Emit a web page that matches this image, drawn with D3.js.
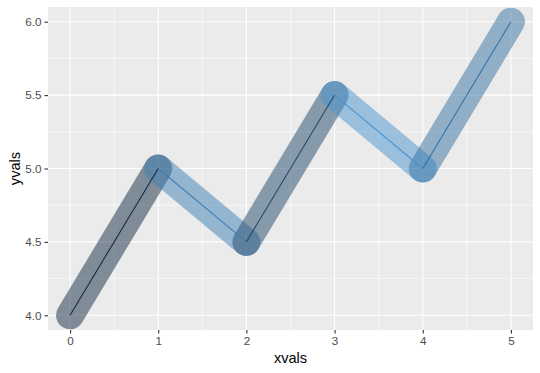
<!DOCTYPE html>
<html>
<head>
<meta charset="utf-8">
<script src="https://cdn.jsdelivr.net/npm/d3@7"></script>
<style>
  body { margin: 0; background: #fff; }
  text { font-family: "Liberation Sans", Arial, sans-serif; }
</style>
</head>
<body>
<div id="chart"></div>
<script>
// data
var xvals = [0, 1, 2, 3, 4, 5];
var yvals = [4, 5, 4.5, 5.5, 5, 6];
var colourvals = [0, 0.65, 0.25, 0.8, 0.55, 1];   // colour of each segment (taken from its start point)
var xTicks = [0, 1, 2, 3, 4, 5];
var yTicks = [4.0, 4.5, 5.0, 5.5, 6.0];

var svgWidth = 540;
var svgHeight = 373;

var margin = { top: 7, right: 7, bottom: 43, left: 48 };
var width = svgWidth - margin.left - margin.right;
var height = svgHeight - margin.top - margin.bottom;

var svg = d3.select("#chart")
  .append("svg")
  .attr("width", svgWidth)
  .attr("height", svgHeight);

var chartGroup = svg.append("g")
  .attr("transform", `translate(${margin.left}, ${margin.top})`);

// ggplot-like 5% expansion
var xLinearScale = d3.scaleLinear().domain([-0.25, 5.25]).range([0, width]);
var yLinearScale = d3.scaleLinear().domain([3.9, 6.1]).range([height, 0]);

var colourScale = d3.scaleLinear()
  .domain([d3.min(colourvals), d3.max(colourvals)])
  .range(["#132B43", "#56B1F7"])
  .interpolate(d3.interpolateLab);

// panel
chartGroup.append("rect")
  .attr("width", width)
  .attr("height", height)
  .attr("fill", "#EBEBEB");

// minor grid
var xMinor = [0.5, 1.5, 2.5, 3.5, 4.5];
var yMinor = [4.25, 4.75, 5.25, 5.75];
chartGroup.selectAll(".xminor").data(xMinor).enter().append("line")
  .attr("x1", d => xLinearScale(d)).attr("x2", d => xLinearScale(d))
  .attr("y1", 0).attr("y2", height)
  .attr("stroke", "#fff").attr("stroke-width", 0.55);
chartGroup.selectAll(".yminor").data(yMinor).enter().append("line")
  .attr("y1", d => yLinearScale(d)).attr("y2", d => yLinearScale(d))
  .attr("x1", 0).attr("x2", width)
  .attr("stroke", "#fff").attr("stroke-width", 0.55);

// major grid
chartGroup.selectAll(".xmajor").data(xTicks).enter().append("line")
  .attr("x1", d => xLinearScale(d)).attr("x2", d => xLinearScale(d))
  .attr("y1", 0).attr("y2", height)
  .attr("stroke", "#fff").attr("stroke-width", 1.1);
chartGroup.selectAll(".ymajor").data(yTicks).enter().append("line")
  .attr("y1", d => yLinearScale(d)).attr("y2", d => yLinearScale(d))
  .attr("x1", 0).attr("x2", width)
  .attr("stroke", "#fff").attr("stroke-width", 1.1);

// segments
var segments = d3.range(xvals.length - 1).map(function(i) {
  return { x1: xvals[i], y1: yvals[i], x2: xvals[i + 1], y2: yvals[i + 1], c: colourvals[i] };
});

chartGroup.selectAll(".thick").data(segments).enter().append("line")
  .attr("x1", d => xLinearScale(d.x1)).attr("y1", d => yLinearScale(d.y1))
  .attr("x2", d => xLinearScale(d.x2)).attr("y2", d => yLinearScale(d.y2))
  .attr("stroke", d => colourScale(d.c))
  .attr("stroke-opacity", 0.5)
  .attr("stroke-width", 28)
  .attr("stroke-linecap", "round");

chartGroup.selectAll(".thin").data(segments).enter().append("line")
  .attr("x1", d => xLinearScale(d.x1)).attr("y1", d => yLinearScale(d.y1))
  .attr("x2", d => xLinearScale(d.x2)).attr("y2", d => yLinearScale(d.y2))
  .attr("stroke", d => colourScale(d.c))
  .attr("stroke-width", 1.1);

// axes
var bottomAxis = d3.axisBottom(xLinearScale).tickValues(xTicks).tickFormat(d3.format("d")).tickSize(3.5).tickPadding(3);
var leftAxis = d3.axisLeft(yLinearScale).tickValues(yTicks).tickFormat(d3.format(".1f")).tickSize(3.5).tickPadding(3);

var xAxisG = chartGroup.append("g")
  .attr("transform", `translate(0, ${height})`)
  .call(bottomAxis);
var yAxisG = chartGroup.append("g")
  .call(leftAxis);

[xAxisG, yAxisG].forEach(function(g) {
  g.select(".domain").remove();
  g.selectAll(".tick line").attr("stroke", "#333333").attr("stroke-width", 1.1);
  g.selectAll(".tick text").attr("fill", "#4D4D4D").style("font-size", "11.7px")
    .style("font-family", "'Liberation Sans', Arial, sans-serif");
});

// axis titles
svg.append("text")
  .attr("x", margin.left + width / 2)
  .attr("y", 363)
  .attr("text-anchor", "middle")
  .style("font-size", "14.6px")
  .attr("fill", "#000")
  .text("xvals");

svg.append("text")
  .attr("transform", `translate(20, ${margin.top + height / 2}) rotate(-90)`)
  .attr("text-anchor", "middle")
  .style("font-size", "14.6px")
  .attr("fill", "#000")
  .text("yvals");
</script>
</body>
</html>
